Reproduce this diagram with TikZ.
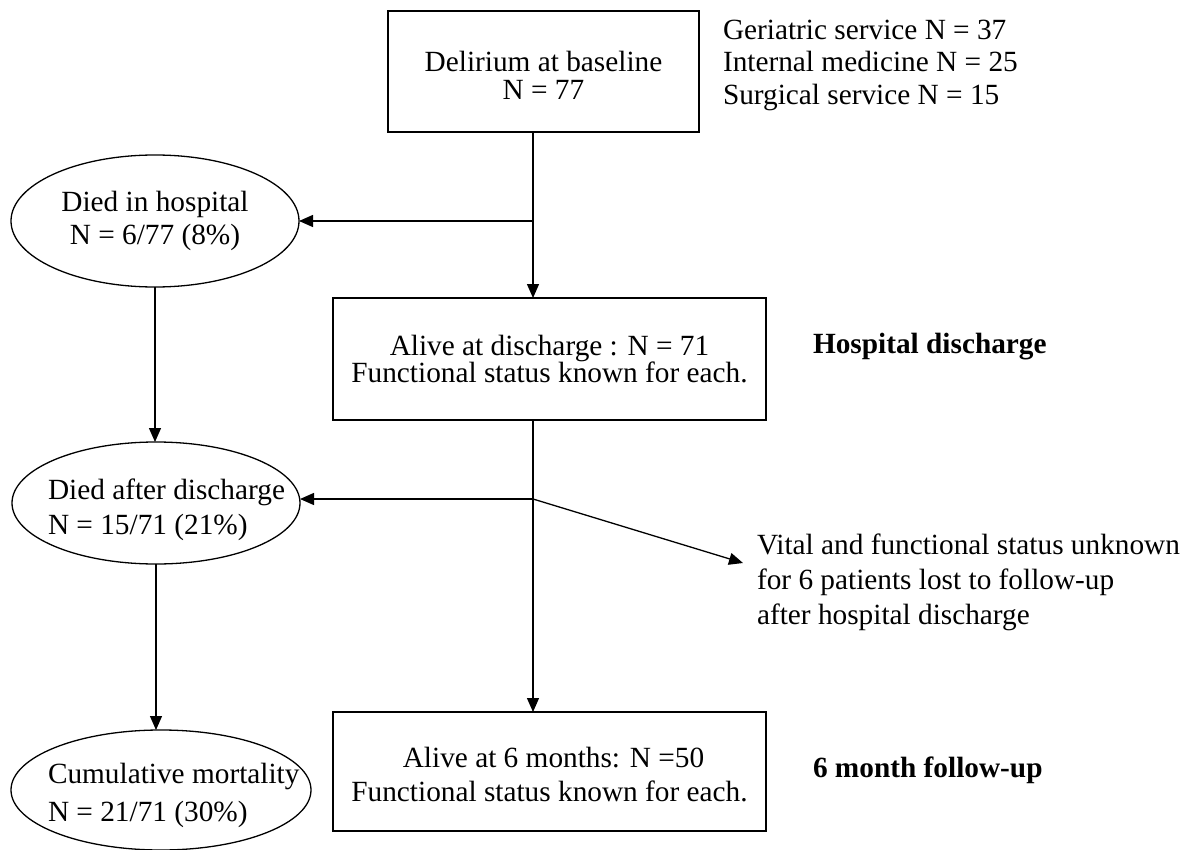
\documentclass[tikz,border=0pt]{standalone}
\usepackage{fontspec}
\setmainfont{Liberation Serif}
\usetikzlibrary{shapes.geometric,arrows.meta}
\newcommand{\fs}[1]{\fontsize{29.3}{#1}\selectfont}
\begin{document}
\begin{tikzpicture}[x=1pt,y=-1pt,
  every node/.style={inner sep=0pt, outer sep=0pt},
  stepbox/.style={draw, line width=1.5pt, rectangle, align=center},
  oval/.style={draw, line width=1.3pt, ellipse},
  plain/.style={align=left, anchor=west},
  arr/.style={line width=1.3pt, -{Triangle[length=14pt,width=12pt]}},
  ln/.style={line width=1.3pt}]
\useasboundingbox (0,0) rectangle (1188,850);
% boxes
\node[stepbox, minimum width=311pt, minimum height=121pt, text height=56pt, font=\fs{28}] (b1) at (543.5,71.5)
  {Delirium at baseline\\N = 77};
\node[stepbox, minimum width=433pt, minimum height=122pt, font=\fs{27}] (b2) at (549.5,359)
  {Alive at discharge : N = 71\\Functional status known for each.};
\node[stepbox, minimum width=433pt, minimum height=119pt, text height=61pt, font=\fs{34}] (b3) at (549.5,771.5)
  {\hspace*{8pt}Alive at 6 months: N =50\\Functional status known for each.};
% ellipses
\node[oval, minimum width=288pt, minimum height=132pt, align=center, font=\fs{33}] (e1) at (155,221)
  {Died in hospital\\N = 6/77 (8\%)};
\node[oval, minimum width=288pt, minimum height=122pt] (e2) at (156,503) {};
\node[plain, font=\fs{35}] (t2) at (48,510) {Died after discharge\\N = 15/71 (21\%)};
\node[oval, minimum width=300pt, minimum height=120pt] (e3) at (161,790) {};
\node[plain, font=\fs{38}] (t3) at (48,795) {Cumulative mortality\\N = 21/71 (30\%)};
% side texts
\node[plain, font=\fs{32.5}] (gs) at (723,65)
  {Geriatric service N = 37\\Internal medicine N = 25\\Surgical service N = 15};
\node[plain, font=\fs{33}\bfseries] (hd) at (813,347) {Hospital discharge};
\node[plain, font=\fs{33}\bfseries] (fu) at (813,770) {6 month follow-up};
\node[plain, font=\fs{35}] (vt) at (757,582)
  {Vital and functional status unknown\\for 6 patients lost to follow-up\\after hospital discharge};
% connectors
\coordinate (j1) at (533,221);
\coordinate (j2) at (533,499);
\coordinate (tip) at (743,563);
\draw[ln] (b1.south -| j1) -- (j1);
\draw[arr] (j1) -- (b2.north -| j1);
\draw[arr] (j1) -- (e1.east);
\draw[ln] (b2.south -| j2) -- (j2);
\draw[arr] (j2) -- (b3.north -| j2);
\draw[arr] (j2) -- (j2 -| e2.east);
\draw[arr] (j2) -- (tip);
\draw[arr] (e1.south) -- (e2.north -| e1.south);
\draw[arr] (e2.south) -- (e3.north -| e2.south);
\end{tikzpicture}
\end{document}
